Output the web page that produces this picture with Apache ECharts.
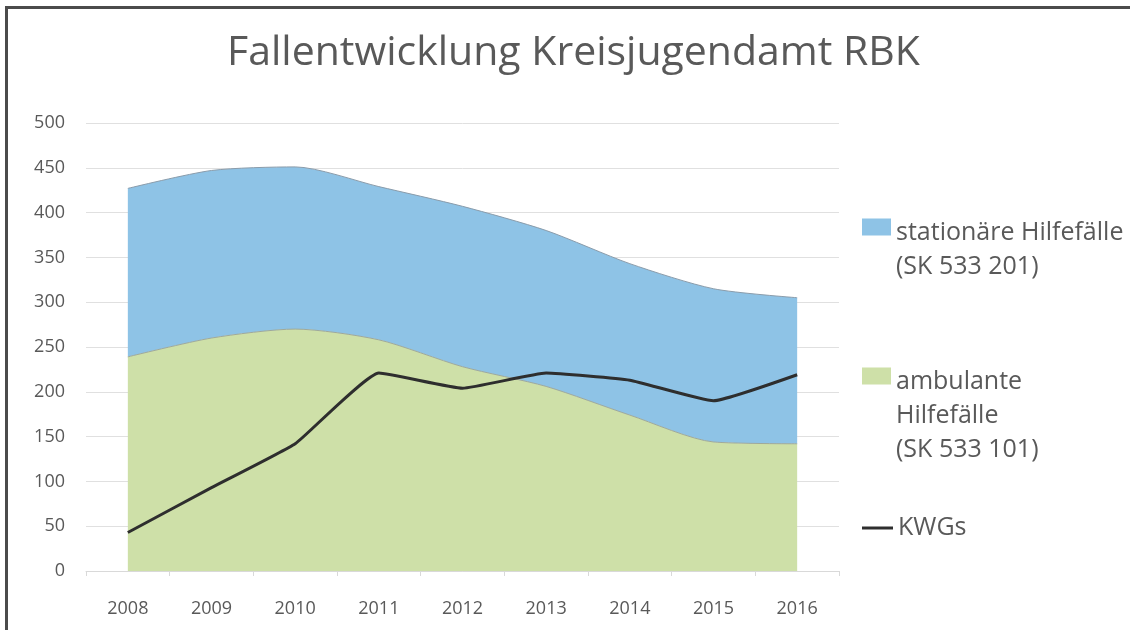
<!DOCTYPE html>
<html>
<head>
<meta charset="utf-8">
<script src="https://cdn.jsdelivr.net/npm/echarts@6/dist/echarts.min.js"></script>
<style>
  html, body { margin: 0; padding: 0; background: #ffffff; }
  #wrap { position: relative; width: 1130px; height: 630px; }
  #chart { width: 1130px; height: 630px; }
  #frame { position: absolute; left: 5px; top: 6px; right: 0; bottom: -10px;
           border-top: 3px solid #4b4b4b; border-left: 3px solid #4b4b4b; pointer-events: none; }
</style>
</head>
<body>
<div id="wrap">
  <div id="chart"></div>
  <div id="frame"></div>
</div>
<script>
const titleText = 'Fallentwicklung Kreisjugendamt RBK';
const years = ['2008', '2009', '2010', '2011', '2012', '2013', '2014', '2015', '2016'];
const nameStationaer = 'stationäre Hilfefälle\n(SK 533 201)';
const nameAmbulant = 'ambulante\nHilfefälle\n(SK 533 101)';
const nameKWG = 'KWGs';
// stacked values: ambulante at the bottom, stationäre on top of it
const ambulante = [239, 260, 270, 258, 228, 206, 174, 144, 142];
const stationaere = [188, 187, 181, 171, 179, 174, 169, 171, 163];
const kwgs = [43, 93, 142, 221, 204, 221, 213, 190, 219];
const yMin = 0, yMax = 500, yStep = 50;

const FONT = '"Open Sans", "DejaVu Sans", sans-serif';
const TXT = '#595959';
const LH = 34;

const chart = echarts.init(document.getElementById('chart'), null, { renderer: 'canvas' });

// legend: icon aligned with the first text line (leading blank lines keep line 1 at the icon's centre)
function legendBlock(name, top, icon, w, h) {
  return {
    left: 862, top: top, orient: 'vertical', padding: 0,
    itemWidth: w, itemHeight: h, itemGap: 0,
    icon: icon,
    itemStyle: { borderWidth: 0 },
    textStyle: { color: TXT, fontFamily: FONT, fontSize: 25, lineHeight: LH },
    formatter: function (n) {
      const k = n.split('\n').length;
      return '\n'.repeat(k - 1) + n;
    },
    selectedMode: false,
    data: [name]
  };
}
// square swatch sitting in the upper part of a 29x29 box (text sits a little lower, as in Excel)
const swatch = 'path://M0,0 L29,0 L29,17 L0,17 Z M0,29 L0.01,29 L0,29 Z';

chart.setOption({
  backgroundColor: '#ffffff',
  animation: false,
  title: {
    text: titleText, left: 222, top: 28,
    textStyle: { color: TXT, fontFamily: FONT, fontSize: 41, fontWeight: 'normal' }
  },
  legend: [
    legendBlock(nameStationaer, 182, swatch, 29, 29),
    legendBlock(nameAmbulant, 297, swatch, 29, 29),
    legendBlock(nameKWG, 511, 'path://M0,0 L31,0 L31,3 L0,3 Z', 31, 3)
  ],
  grid: { left: 86, right: 291, top: 123, bottom: 59, containLabel: false },
  xAxis: {
    type: 'category', data: years, boundaryGap: true,
    axisLine: { show: true, lineStyle: { color: '#d9d9d9', width: 1 } },
    axisTick: { show: true, length: 5, lineStyle: { color: '#d9d9d9' } },
    axisLabel: { color: TXT, fontFamily: FONT, fontSize: 18, margin: 29 },
    splitLine: { show: false }
  },
  yAxis: {
    type: 'value', min: yMin, max: yMax, interval: yStep,
    axisLine: { show: false }, axisTick: { show: false },
    axisLabel: { color: TXT, fontFamily: FONT, fontSize: 18, margin: 21 },
    splitLine: { show: true, lineStyle: { color: '#e0e0e0', width: 1 } }
  },
  series: [
    {
      name: nameAmbulant, type: 'line', stack: 'total', data: ambulante,
      smooth: 0.25, symbol: 'none',
      itemStyle: { color: '#cee0a8' },
      lineStyle: { color: '#9fa99a', width: 1 },
      areaStyle: { color: '#cee0a8', opacity: 1 },
      z: 2
    },
    {
      name: nameStationaer, type: 'line', stack: 'total', data: stationaere,
      smooth: 0.25, symbol: 'none',
      itemStyle: { color: '#8ec3e6' },
      lineStyle: { color: '#8a9cab', width: 1 },
      areaStyle: { color: '#8ec3e6', opacity: 1 },
      z: 2
    },
    {
      name: nameKWG, type: 'line', data: kwgs,
      smooth: 0.12, symbol: 'none',
      itemStyle: { color: '#2e2e2e' },
      lineStyle: { color: '#2e2e2e', width: 3 },
      z: 5
    }
  ]
});
</script>
</body>
</html>
